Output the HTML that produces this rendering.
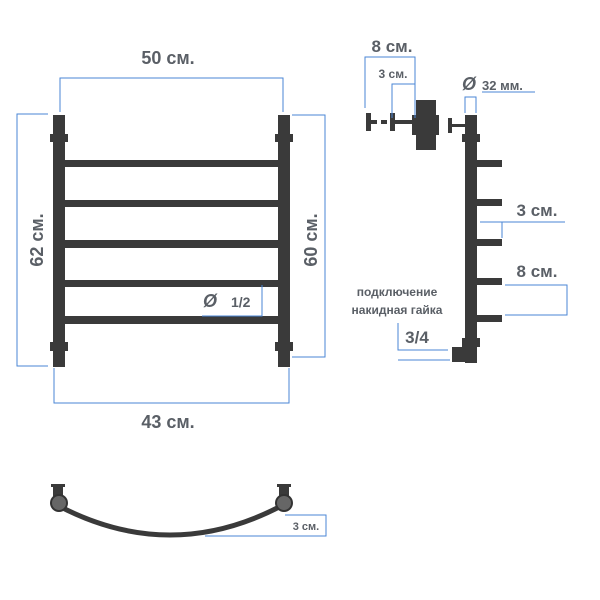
<!DOCTYPE html>
<html><head><meta charset="utf-8"><style>
html,body{margin:0;padding:0;background:#fff;}
svg{display:block;}
text{font-family:"Liberation Sans",sans-serif;font-weight:bold;fill:#5a5f66;}
</style></head><body>
<svg width="600" height="600" viewBox="0 0 600 600">
<g fill="#3a3a3a">
<!-- front view poles -->
<rect x="53" y="115" width="12" height="252"/>
<rect x="278" y="115" width="12" height="252"/>
<rect x="50" y="134" width="18" height="8"/>
<rect x="275" y="134" width="18" height="8"/>
<rect x="50" y="342" width="18" height="9"/>
<rect x="275" y="342" width="18" height="9"/>
<!-- rails -->
<rect x="65" y="160" width="213" height="7"/>
<rect x="65" y="200" width="213" height="7"/>
<rect x="65" y="240" width="213" height="8"/>
<rect x="65" y="280" width="213" height="7"/>
<rect x="65" y="316" width="213" height="8"/>
<!-- side view -->
<rect x="465" y="115" width="12" height="248"/>
<rect x="462" y="134" width="18" height="8"/>
<rect x="462" y="338" width="18" height="9"/>
<rect x="477" y="160" width="25" height="7"/>
<rect x="477" y="199" width="25" height="7"/>
<rect x="477" y="239" width="25" height="7"/>
<rect x="477" y="278" width="25" height="7"/>
<rect x="477" y="315" width="25" height="7"/>
<rect x="452" y="347" width="14" height="15"/>
<rect x="450" y="124" width="15" height="3"/>
<rect x="448" y="118" width="4" height="15"/>
<!-- bracket -->
<rect x="416" y="100" width="20" height="50"/>
<rect x="412" y="115" width="27" height="20"/>
<rect x="393" y="120" width="23" height="4"/>
<rect x="390" y="113" width="5" height="18"/>
<rect x="366" y="113" width="5" height="18"/>
<rect x="369" y="120" width="8" height="4"/>
<rect x="381" y="120" width="6" height="4"/>
</g>
<!-- bottom arc -->
<path d="M57 505 Q170 565 283 505" stroke="#3a3a3a" stroke-width="5" fill="none"/>
<g fill="#3a3a3a">
<rect x="53" y="487" width="10" height="10"/><rect x="51" y="484" width="14" height="3"/>
<rect x="279" y="487" width="10" height="10"/><rect x="277" y="484" width="14" height="3"/>
</g>
<circle cx="59" cy="503" r="8" fill="#666" stroke="#333" stroke-width="2"/>
<circle cx="284" cy="503" r="8" fill="#666" stroke="#333" stroke-width="2"/>
<!-- dimension lines -->
<g stroke="#4a86d6" stroke-width="1" fill="none">
<path d="M60 112V78H283V112"/>
<path d="M48 114H17V366H48"/>
<path d="M292 115H325V357H292"/>
<path d="M54 368V403H289V368"/>
<path d="M202 316H262V285"/>
<path d="M365 108V57H415V118"/>
<path d="M392 118V84H415"/>
<path d="M465 113V97H476V113M482 92H535"/>
<path d="M480 222H565M502 222V238"/>
<path d="M505 285H567V315H505"/>
<path d="M398 323V350H448M398 360H450"/>
<path d="M205 536H326V515H285"/>
</g>
<text x="168" y="64" font-size="18" text-anchor="middle">50 см.</text>
<text x="168" y="428" font-size="18" text-anchor="middle">43 см.</text>
<text transform="translate(43,240) rotate(-90)" font-size="18" text-anchor="middle">62 см.</text>
<text transform="translate(317,240) rotate(-90)" font-size="18" text-anchor="middle">60 см.</text>
<text x="203" y="307" font-size="18" font-style="italic">Ø</text>
<text x="231" y="307" font-size="14">1/2</text>
<text x="392" y="52" font-size="17" text-anchor="middle">8 см.</text>
<text x="393" y="78" font-size="12" text-anchor="middle">3 см.</text>
<text x="462" y="90" font-size="18" font-style="italic">Ø</text>
<text x="482" y="90" font-size="13">32 мм.</text>
<text x="537" y="216" font-size="17" text-anchor="middle">3 см.</text>
<text x="537" y="277" font-size="17" text-anchor="middle">8 см.</text>
<text x="397" y="296" font-size="12" text-anchor="middle">подключение</text>
<text x="397" y="314" font-size="12" text-anchor="middle">накидная гайка</text>
<text x="417" y="343" font-size="17" text-anchor="middle">3/4</text>
<text x="306" y="530" font-size="11" text-anchor="middle">3 см.</text>
</svg>
</body></html>
